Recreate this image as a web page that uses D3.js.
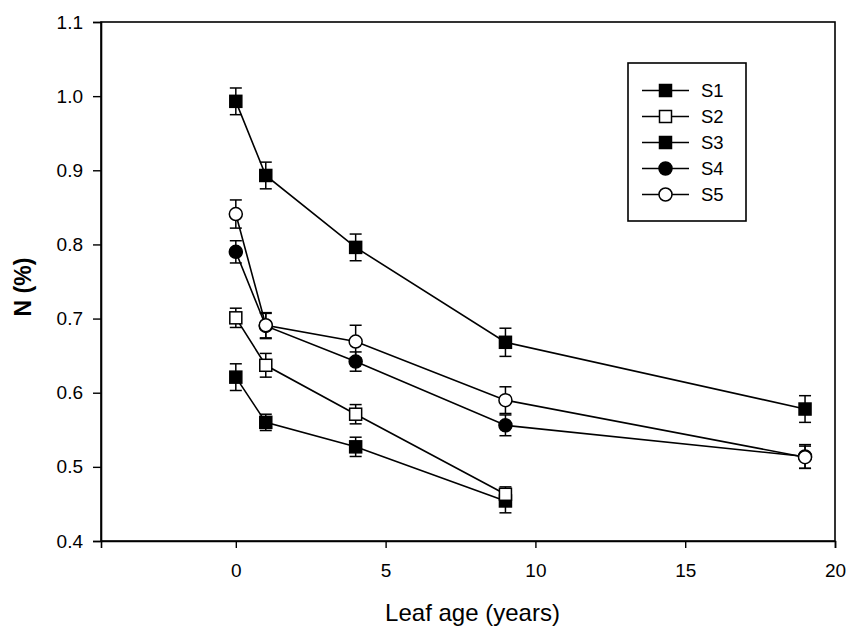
<!DOCTYPE html>
<html>
<head>
<meta charset="utf-8">
<script src="https://cdn.jsdelivr.net/npm/d3@7"></script>
<style>
  body { margin: 0; background: #fff; }
  svg { display: block; font-family: "Liberation Sans", Arial, sans-serif; }
</style>
</head>
<body>
<svg id="chart" width="849" height="628"></svg>
<script>
// Leaf age (years) at which nitrogen was sampled
const ages = [0, 1, 4, 9, 19];

// Mean N (%) per site; null where the age class was not sampled
const s1 = [0.621, 0.560, 0.527, 0.454, null];
const s2 = [0.701, 0.637, 0.571, 0.463, null];
const s3 = [0.993, 0.893, 0.796, 0.668, 0.578];
const s4 = [0.790, 0.690, 0.642, 0.556, 0.514];
const s5 = [0.841, 0.691, 0.669, 0.590, 0.513];

// Standard errors
const s1Err = [0.018, 0.011, 0.013, 0.016, null];
const s2Err = [0.013, 0.016, 0.013, 0.010, null];
const s3Err = [0.018, 0.018, 0.018, 0.019, 0.018];
const s4Err = [0.015, 0.017, 0.013, 0.014, 0.016];
const s5Err = [0.019, 0.017, 0.022, 0.018, 0.015];

const seriesNames = ["S1", "S2", "S3", "S4", "S5"];
const xTicks = [0, 5, 10, 15, 20];
const yTicks = [0.4, 0.5, 0.6, 0.7, 0.8, 0.9, 1.0, 1.1];

const symbols = [
  { shape: "square", fill: "#000" },
  { shape: "square", fill: "#fff" },
  { shape: "square", fill: "#000" },
  { shape: "circle", fill: "#000" },
  { shape: "circle", fill: "#fff" }
];

const values = [s1, s2, s3, s4, s5];
const errors = [s1Err, s2Err, s3Err, s4Err, s5Err];

const series = seriesNames.map((name, i) => ({
  name,
  sym: symbols[i],
  points: ages.map((a, j) => ({ x: a, y: values[i][j], e: errors[i][j] }))
              .filter(p => p.y !== null)
}));

const svg = d3.select("#chart");
const plotL = 101, plotR = 835, plotT = 22, plotB = 541;

const x = d3.scaleLinear().domain([-4.5, 20]).range([plotL, plotR]);
const y = d3.scaleLinear().domain([0.4, 1.1]).range([plotB, plotT]);

// frame
svg.append("rect")
  .attr("x", plotL).attr("y", plotT)
  .attr("width", plotR - plotL).attr("height", plotB - plotT)
  .attr("fill", "none").attr("stroke", "#000").attr("stroke-width", 1.6);

// axes
const xAxis = svg.append("g")
  .attr("transform", `translate(0,${plotB})`)
  .call(d3.axisBottom(x).tickValues(xTicks).tickFormat(d3.format("d"))
        .tickSize(7).tickPadding(16));
const yAxis = svg.append("g")
  .attr("transform", `translate(${plotL},0)`)
  .call(d3.axisLeft(y).tickValues(yTicks).tickFormat(d3.format(".1f"))
        .tickSize(8).tickPadding(10));

[xAxis, yAxis].forEach(g => {
  g.select(".domain").attr("stroke-width", 1.6);
  g.selectAll(".tick line").attr("stroke-width", 1.4);
  g.selectAll(".tick text")
    .attr("font-size", 19)
    .attr("font-family", "'Liberation Sans', Arial, sans-serif")
    .attr("fill", "#000");
});

// axis titles
svg.append("text")
  .attr("x", 472.5).attr("y", 620.5)
  .attr("text-anchor", "middle")
  .attr("font-size", 24)
  .text("Leaf age (years)");

svg.append("text")
  .attr("transform", `translate(31,287) rotate(-90)`)
  .attr("text-anchor", "middle")
  .attr("font-size", 23)
  .attr("font-weight", "bold")
  .text("N (%)");

const line = d3.line().x(d => x(d.x)).y(d => y(d.y));
const sqSize = 12, circR = 6.5, capW = 6;

function drawMarker(g, sym, cx, cy) {
  if (sym.shape === "square") {
    g.append("rect")
      .attr("x", cx - sqSize / 2).attr("y", cy - sqSize / 2)
      .attr("width", sqSize).attr("height", sqSize)
      .attr("fill", sym.fill).attr("stroke", "#000").attr("stroke-width", 1.5);
  } else {
    g.append("circle")
      .attr("cx", cx).attr("cy", cy).attr("r", circR)
      .attr("fill", sym.fill).attr("stroke", "#000").attr("stroke-width", 1.5);
  }
}

// error bars
series.forEach(s => {
  const g = svg.append("g").attr("stroke", "#000").attr("stroke-width", 1.5);
  s.points.forEach(p => {
    const cx = x(p.x), y0 = y(p.y - p.e), y1 = y(p.y + p.e);
    g.append("line").attr("x1", cx).attr("x2", cx).attr("y1", y0).attr("y2", y1);
    g.append("line").attr("x1", cx - capW).attr("x2", cx + capW).attr("y1", y0).attr("y2", y0);
    g.append("line").attr("x1", cx - capW).attr("x2", cx + capW).attr("y1", y1).attr("y2", y1);
  });
});

// connecting lines
series.forEach(s => {
  svg.append("path").datum(s.points)
    .attr("d", line).attr("fill", "none")
    .attr("stroke", "#000").attr("stroke-width", 1.6);
});

// markers
series.forEach(s => {
  const g = svg.append("g");
  s.points.forEach(p => drawMarker(g, s.sym, x(p.x), y(p.y)));
});

// legend
const lg = svg.append("g");
lg.append("rect")
  .attr("x", 628).attr("y", 63).attr("width", 118).attr("height", 158)
  .attr("fill", "#fff").attr("stroke", "#000").attr("stroke-width", 1.6);
series.forEach((s, i) => {
  const ly = 90.5 + i * 26;
  lg.append("line").attr("x1", 642).attr("x2", 689).attr("y1", ly).attr("y2", ly)
    .attr("stroke", "#000").attr("stroke-width", 1.6);
  drawMarker(lg, s.sym, 665.5, ly);
  lg.append("text").attr("x", 701).attr("y", ly).attr("dy", "0.36em")
    .attr("font-size", 18.5).text(s.name);
});
</script>
</body>
</html>
